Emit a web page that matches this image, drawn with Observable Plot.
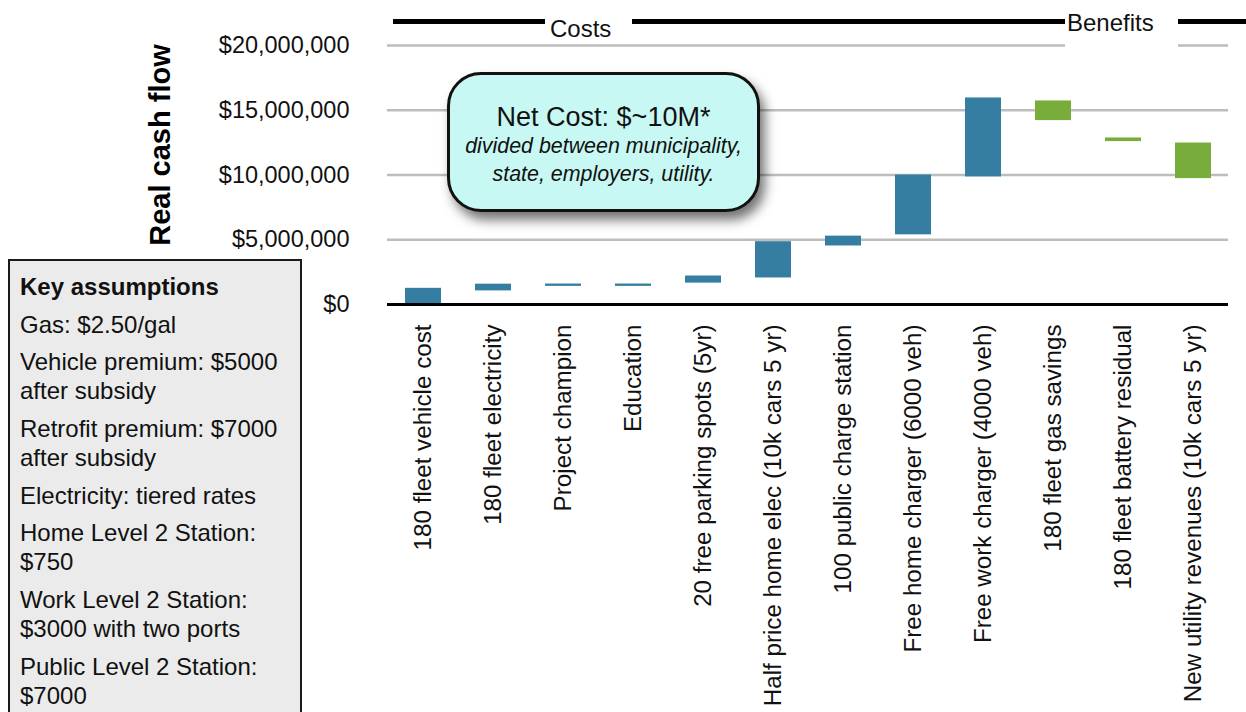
<!DOCTYPE html>
<html>
<head>
<meta charset="utf-8">
<script src="https://cdn.jsdelivr.net/npm/d3@7"></script>
<script src="https://cdn.jsdelivr.net/npm/@observablehq/plot@0.6"></script>
<style>
  html, body { margin: 0; padding: 0; background: #fff; }
  body { width: 1246px; height: 712px; overflow: hidden; position: relative;
         font-family: "Liberation Sans", Arial, Helvetica, sans-serif; color: #111; }
  #chart { position: absolute; left: 0; top: 0; }
  .hdrline { position: absolute; left: 393px; width: 853px; top: 19px; height: 5px; background: #000; }
  .hdr { position: absolute; background: #fff; font-size: 24px; text-align: left; line-height: 1; box-sizing: border-box; }
  #ytitle { position: absolute; left: 160px; top: 145px; transform: translate(-50%, -50%) rotate(-90deg);
            font-weight: bold; font-size: 29px; white-space: nowrap; color: #000; }
  #callout { position: absolute; left: 447px; top: 72px; width: 307px; height: 134px;
             border: 3px solid #111; border-radius: 34px; background: #c7f8f3;
             box-shadow: 5px 8px 12px rgba(0,0,0,0.55); text-align: center; box-sizing: content-box; }
  #callout .big { font-size: 27px; margin-top: 27px; line-height: 30px; color: #111; }
  #callout .it { font-size: 21.4px; font-style: italic; line-height: 28px; color: #111; }
  #keybox { position: absolute; left: 8px; top: 259px; width: 290px; height: 480px;
            border: 2.5px solid #1a1a1a; background: #ebebeb; }
  #keybox .ttl { font-weight: bold; }
  #keybox p { margin: 0 0 8.7px 0; font-size: 24px; line-height: 29px; padding-left: 10px; color: #111; }
</style>
</head>
<body>
<div id="chart"></div>
<div class="hdrline"></div>
<div class="hdr" style="left:545px; top:10px; width:87px; height:32px; padding-top:7px; padding-left:5px;">Costs</div>
<div class="hdr" style="left:1065px; top:5px; width:113px; height:48px; padding-top:6px; padding-left:2px;">Benefits</div>
<div id="ytitle">Real cash flow</div>
<div id="callout">
  <div class="big">Net Cost: $~10M*</div>
  <div class="it">divided between municipality,<br>state, employers, utility.</div>
</div>
<div id="keybox"></div>
<script>
// ---- data ----
const categories = [
  "180 fleet vehicle cost",
  "180 fleet electricity",
  "Project champion",
  "Education",
  "20 free parking spots (5yr)",
  "Half price home elec (10k cars 5 yr)",
  "100 public charge station",
  "Free home charger (6000 veh)",
  "Free work charger (4000 veh)",
  "180 fleet gas savings",
  "180 fleet battery residual",
  "New utility revenues (10k cars 5 yr)"
];
const lowValues  = [0, 1.05e6, 1.40e6, 1.40e6, 1.65e6, 2.05e6, 4.52e6, 5.38e6, 9.85e6, 14.2e6, 12.58e6, 9.72e6];
const highValues = [1.25e6, 1.57e6, 1.58e6, 1.58e6, 2.20e6, 4.85e6, 5.28e6, 10.0e6, 15.95e6, 15.72e6, 12.86e6, 12.47e6];
const kinds = ["Cost","Cost","Cost","Cost","Cost","Cost","Cost","Cost","Cost","Benefit","Benefit","Benefit"];
const yTicks = [0, 5e6, 10e6, 15e6, 20e6];
const keyAssumptions = [
  ["Key assumptions"],
  ["Gas: $2.50/gal"],
  ["Vehicle premium: $5000", "after subsidy"],
  ["Retrofit premium: $7000", "after subsidy"],
  ["Electricity: tiered rates"],
  ["Home Level 2 Station:", "$750"],
  ["Work Level 2 Station:", "$3000 with two ports"],
  ["Public Level 2 Station:", "$7000"]
];

const rows = categories.map((c, i) => ({category: c, low: lowValues[i], high: highValues[i], kind: kinds[i]}));

const chart = Plot.plot({
  width: 1246,
  height: 712,
  marginLeft: 387,
  marginRight: 18,
  marginTop: 45,
  marginBottom: 408,
  style: {fontFamily: "'Liberation Sans', Arial, Helvetica, sans-serif", fontSize: "23.5px", color: "#111", background: "transparent", overflow: "visible"},
  x: {domain: categories, paddingInner: 0.486, paddingOuter: 0.25},
  y: {domain: [0, 20e6]},
  color: {domain: ["Cost", "Benefit"], range: ["#357ea2", "#78ad3b"]},
  marks: [
    Plot.ruleY(yTicks.filter(d => d > 0), {stroke: "#bdbdbd", strokeWidth: 2.5}),
    Plot.barY(rows, {x: "category", y1: "low", y2: "high", fill: "kind"}),
    Plot.ruleY([0], {stroke: "#000", strokeWidth: 3}),
    Plot.axisY({ticks: yTicks, tickSize: 0, tickPadding: 38, tickFormat: d3.format("$,"), label: null, fontSize: 23.5}),
    Plot.axisX({tickSize: 0, tickPadding: 20, tickRotate: -90, label: null, fontSize: 24.2})
  ]
});
document.getElementById("chart").appendChild(chart);

const kb = document.getElementById("keybox");
keyAssumptions.forEach((lines, i) => {
  const p = document.createElement("p");
  if (i === 0) p.className = "ttl";
  p.innerHTML = lines.join("<br>");
  kb.appendChild(p);
});
kb.firstChild.style.marginTop = "11px";
</script>
</body>
</html>
